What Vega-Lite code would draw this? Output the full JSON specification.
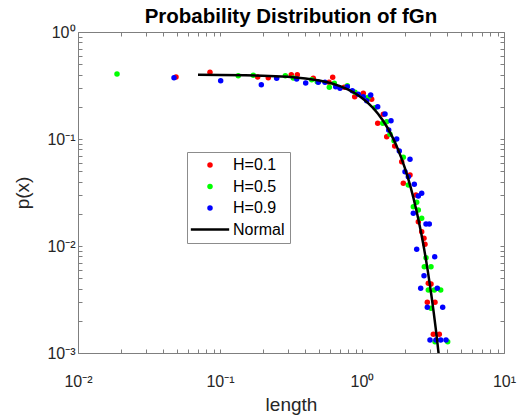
{
  "$schema": "https://vega.github.io/schema/vega-lite/v6.json",
  "width": 426,
  "height": 321,
  "autosize": {"type": "none"},
  "padding": {"left": 78, "top": 32, "right": 19, "bottom": 65},
  "background": "white",
  "title": {"text": "Probability Distribution of fGn", "font": "Liberation Sans", "fontSize": 20.5, "fontWeight": "bold", "color": "black", "anchor": "middle", "offset": 6, "dy": 9},
  "config": {
    "view": {"stroke": "#7f7f7f", "strokeWidth": 1},
    "axis": {"labelFont": "Liberation Sans", "labelFontSize": 16, "labelColor": "#262626", "titleFont": "Liberation Sans", "titleFontSize": 19, "titleFontWeight": "normal", "titleColor": "#262626", "grid": false, "domain": false, "tickColor": "#7f7f7f", "tickSize": -4, "tickWidth": 1, "labelOverlap": false, "labelFlush": false},
    "legend": {"labelFont": "Liberation Sans", "labelFontSize": 16, "labelColor": "#000000", "padding": 5, "rowPadding": 5.5, "strokeColor": "#8c8c8c", "fillColor": "white", "symbolSize": 30, "symbolStrokeWidth": 2.5, "symbolOffset": 10, "labelOffset": 15}
  },
  "datasets": {
    "pts": [
      {"x": 0.0490, "y": 0.3797, "s": "H=0.1"},
      {"x": 0.0850, "y": 0.4200, "s": "H=0.1"},
      {"x": 0.1843, "y": 0.380, "s": "H=0.1"},
      {"x": 0.2188, "y": 0.374, "s": "H=0.1"},
      {"x": 0.3177, "y": 0.399, "s": "H=0.1"},
      {"x": 0.3503, "y": 0.399, "s": "H=0.1"},
      {"x": 0.454, "y": 0.369, "s": "H=0.1"},
      {"x": 0.5856, "y": 0.3388, "s": "H=0.1"},
      {"x": 0.6218, "y": 0.3773, "s": "H=0.1"},
      {"x": 0.750, "y": 0.3041, "s": "H=0.1"},
      {"x": 0.8884, "y": 0.2485, "s": "H=0.1"},
      {"x": 1.021, "y": 0.2674, "s": "H=0.1"},
      {"x": 1.170, "y": 0.2350, "s": "H=0.1"},
      {"x": 1.413, "y": 0.1701, "s": "H=0.1"},
      {"x": 1.290, "y": 0.1402, "s": "H=0.1"},
      {"x": 1.493, "y": 0.1051, "s": "H=0.1"},
      {"x": 1.699, "y": 0.0860, "s": "H=0.1"},
      {"x": 1.904, "y": 0.0614, "s": "H=0.1"},
      {"x": 2.178, "y": 0.0461, "s": "H=0.1"},
      {"x": 1.954, "y": 0.0385, "s": "H=0.1"},
      {"x": 2.400, "y": 0.02997, "s": "H=0.1"},
      {"x": 2.492, "y": 0.01687, "s": "H=0.1"},
      {"x": 2.633, "y": 0.01360, "s": "H=0.1"},
      {"x": 2.733, "y": 0.01180, "s": "H=0.1"},
      {"x": 2.778, "y": 0.01037, "s": "H=0.1"},
      {"x": 2.930, "y": 0.00448, "s": "H=0.1"},
      {"x": 3.062, "y": 0.00442, "s": "H=0.1"},
      {"x": 2.884, "y": 0.00298, "s": "H=0.1"},
      {"x": 3.267, "y": 0.00298, "s": "H=0.1"},
      {"x": 3.178, "y": 0.001495, "s": "H=0.1"},
      {"x": 3.503, "y": 0.001495, "s": "H=0.1"},
      {"x": 0.01882, "y": 0.405, "s": "H=0.5"},
      {"x": 0.1345, "y": 0.3904, "s": "H=0.5"},
      {"x": 0.1716, "y": 0.3938, "s": "H=0.5"},
      {"x": 0.2884, "y": 0.3904, "s": "H=0.5"},
      {"x": 0.3283, "y": 0.3716, "s": "H=0.5"},
      {"x": 0.4422, "y": 0.3583, "s": "H=0.5"},
      {"x": 0.4843, "y": 0.3432, "s": "H=0.5"},
      {"x": 0.6383, "y": 0.3316, "s": "H=0.5"},
      {"x": 0.5886, "y": 0.3041, "s": "H=0.5"},
      {"x": 0.7882, "y": 0.3149, "s": "H=0.5"},
      {"x": 0.8928, "y": 0.2732, "s": "H=0.5"},
      {"x": 1.108, "y": 0.2453, "s": "H=0.5"},
      {"x": 1.235, "y": 0.1961, "s": "H=0.5"},
      {"x": 1.493, "y": 0.1451, "s": "H=0.5"},
      {"x": 1.399, "y": 0.1402, "s": "H=0.5"},
      {"x": 1.575, "y": 0.1106, "s": "H=0.5"},
      {"x": 1.680, "y": 0.0964, "s": "H=0.5"},
      {"x": 1.954, "y": 0.0675, "s": "H=0.5"},
      {"x": 2.119, "y": 0.03716, "s": "H=0.5"},
      {"x": 2.428, "y": 0.02561, "s": "H=0.5"},
      {"x": 2.298, "y": 0.02330, "s": "H=0.5"},
      {"x": 2.492, "y": 0.02171, "s": "H=0.5"},
      {"x": 2.633, "y": 0.01815, "s": "H=0.5"},
      {"x": 2.823, "y": 0.00777, "s": "H=0.5"},
      {"x": 2.746, "y": 0.00640, "s": "H=0.5"},
      {"x": 3.062, "y": 0.00640, "s": "H=0.5"},
      {"x": 2.930, "y": 0.00388, "s": "H=0.5"},
      {"x": 3.230, "y": 0.00388, "s": "H=0.5"},
      {"x": 3.583, "y": 0.00388, "s": "H=0.5"},
      {"x": 3.062, "y": 0.002617, "s": "H=0.5"},
      {"x": 3.267, "y": 0.001275, "s": "H=0.5"},
      {"x": 4.013, "y": 0.001275, "s": "H=0.5"},
      {"x": 0.04744, "y": 0.374, "s": "H=0.9"},
      {"x": 0.1011, "y": 0.3507, "s": "H=0.9"},
      {"x": 0.1954, "y": 0.3217, "s": "H=0.9"},
      {"x": 0.2507, "y": 0.3693, "s": "H=0.9"},
      {"x": 0.3467, "y": 0.3638, "s": "H=0.9"},
      {"x": 0.4013, "y": 0.3337, "s": "H=0.9"},
      {"x": 0.4922, "y": 0.3388, "s": "H=0.9"},
      {"x": 0.5488, "y": 0.3388, "s": "H=0.9"},
      {"x": 0.6530, "y": 0.3081, "s": "H=0.9"},
      {"x": 0.6998, "y": 0.2977, "s": "H=0.9"},
      {"x": 0.7882, "y": 0.3081, "s": "H=0.9"},
      {"x": 0.8546, "y": 0.2828, "s": "H=0.9"},
      {"x": 0.9417, "y": 0.2617, "s": "H=0.9"},
      {"x": 1.021, "y": 0.2485, "s": "H=0.9"},
      {"x": 1.152, "y": 0.2578, "s": "H=0.9"},
      {"x": 1.079, "y": 0.2280, "s": "H=0.9"},
      {"x": 1.290, "y": 0.2003, "s": "H=0.9"},
      {"x": 1.452, "y": 0.1713, "s": "H=0.9"},
      {"x": 1.601, "y": 0.1483, "s": "H=0.9"},
      {"x": 1.542, "y": 0.1214, "s": "H=0.9"},
      {"x": 1.755, "y": 0.1000, "s": "H=0.9"},
      {"x": 1.831, "y": 0.0772, "s": "H=0.9"},
      {"x": 2.178, "y": 0.0646, "s": "H=0.9"},
      {"x": 2.009, "y": 0.0495, "s": "H=0.9"},
      {"x": 2.119, "y": 0.0444, "s": "H=0.9"},
      {"x": 2.335, "y": 0.03772, "s": "H=0.9"},
      {"x": 2.492, "y": 0.02934, "s": "H=0.9"},
      {"x": 2.633, "y": 0.03109, "s": "H=0.9"},
      {"x": 2.298, "y": 0.02021, "s": "H=0.9"},
      {"x": 2.823, "y": 0.01606, "s": "H=0.9"},
      {"x": 2.978, "y": 0.01606, "s": "H=0.9"},
      {"x": 2.428, "y": 0.00931, "s": "H=0.9"},
      {"x": 3.251, "y": 0.00794, "s": "H=0.9"},
      {"x": 2.733, "y": 0.00528, "s": "H=0.9"},
      {"x": 2.591, "y": 0.00402, "s": "H=0.9"},
      {"x": 3.391, "y": 0.00402, "s": "H=0.9"},
      {"x": 2.884, "y": 0.002674, "s": "H=0.9"},
      {"x": 3.701, "y": 0.002674, "s": "H=0.9"},
      {"x": 3.012, "y": 0.001322, "s": "H=0.9"},
      {"x": 3.320, "y": 0.001322, "s": "H=0.9"},
      {"x": 3.583, "y": 0.001322, "s": "H=0.9"},
      {"x": 3.904, "y": 0.001322, "s": "H=0.9"}
    ],
    "normal": [
      {"x": 0.07, "y": 0.39796},
      {"x": 0.1, "y": 0.39695},
      {"x": 0.15, "y": 0.39448},
      {"x": 0.2, "y": 0.39104},
      {"x": 0.3, "y": 0.38139},
      {"x": 0.4, "y": 0.36827},
      {"x": 0.5, "y": 0.35207},
      {"x": 0.6, "y": 0.33322},
      {"x": 0.7, "y": 0.31225},
      {"x": 0.8, "y": 0.28969},
      {"x": 0.9, "y": 0.26609},
      {"x": 1.0, "y": 0.24197},
      {"x": 1.1, "y": 0.21785},
      {"x": 1.2, "y": 0.19419},
      {"x": 1.3, "y": 0.17137},
      {"x": 1.4, "y": 0.14973},
      {"x": 1.5, "y": 0.12952},
      {"x": 1.6, "y": 0.11092},
      {"x": 1.7, "y": 0.09405},
      {"x": 1.8, "y": 0.07895},
      {"x": 1.9, "y": 0.06562},
      {"x": 2.0, "y": 0.05399},
      {"x": 2.1, "y": 0.043984},
      {"x": 2.2, "y": 0.03547},
      {"x": 2.3, "y": 0.028327},
      {"x": 2.4, "y": 0.02239},
      {"x": 2.5, "y": 0.017528},
      {"x": 2.6, "y": 0.01358},
      {"x": 2.7, "y": 0.010421},
      {"x": 2.8, "y": 0.00792},
      {"x": 2.9, "y": 0.005953},
      {"x": 3.0, "y": 0.00443},
      {"x": 3.1, "y": 0.003267},
      {"x": 3.2, "y": 0.00238},
      {"x": 3.3, "y": 0.001723},
      {"x": 3.4, "y": 0.00123},
      {"x": 3.5, "y": 0.00087}
    ]
  },
  "layer": [
    {
      "data": {"name": "pts"},
      "mark": {"type": "point", "filled": true, "size": 30, "opacity": 1, "strokeWidth": 2.5},
      "encoding": {
        "x": {"field": "x", "type": "quantitative", "title": "length",
          "scale": {"type": "log", "domain": [0.01, 10], "nice": false},
          "axis": {"orient": "bottom", "values": [0.01, 0.02, 0.03, 0.04, 0.05, 0.06, 0.07, 0.08, 0.09, 0.1, 0.2, 0.3, 0.4, 0.5, 0.6, 0.7, 0.8, 0.9, 1, 2, 3, 4, 5, 6, 7, 8, 9, 10],
            "labelExpr": "datum.value == 0.01 ? '10⁻²' : datum.value == 0.1 ? '10⁻¹' : datum.value == 1 ? '10⁰' : datum.value == 10 ? '10¹' : ''",
            "labelPadding": 24, "titleY": 51, "titleBaseline": "middle"}},
        "y": {"field": "y", "type": "quantitative", "title": "p(x)",
          "scale": {"type": "log", "domain": [0.001, 1], "nice": false},
          "axis": {"orient": "left", "values": [0.001, 0.002, 0.003, 0.004, 0.005, 0.006, 0.007, 0.008, 0.009, 0.01, 0.02, 0.03, 0.04, 0.05, 0.06, 0.07, 0.08, 0.09, 0.1, 0.2, 0.3, 0.4, 0.5, 0.6, 0.7, 0.8, 0.9, 1],
            "labelExpr": "datum.value == 0.001 ? '10⁻³' : datum.value == 0.01 ? '10⁻²' : datum.value == 0.1 ? '10⁻¹' : datum.value == 1 ? '10⁰' : ''",
            "labelPadding": 7, "titleX": -56, "titleBaseline": "middle"}},
        "color": {"field": "s", "type": "nominal",
          "scale": {"domain": ["H=0.1", "H=0.5", "H=0.9", "Normal"], "range": ["#ff0000", "#00ff00", "#0000ff", "#000000"]},
          "legend": {"title": null, "orient": "none", "legendX": 109, "legendY": 120}},
        "shape": {"field": "s", "type": "nominal",
          "scale": {"domain": ["H=0.1", "H=0.5", "H=0.9", "Normal"], "range": ["circle", "circle", "circle", "M-7,0H7"]},
          "legend": {"title": null, "orient": "none", "legendX": 109, "legendY": 120}},
        "stroke": {"field": "s", "type": "nominal",
          "scale": {"domain": ["H=0.1", "H=0.5", "H=0.9", "Normal"], "range": ["transparent", "transparent", "transparent", "#000000"]},
          "legend": {"title": null, "orient": "none", "legendX": 109, "legendY": 120}}
      }
    },
    {
      "data": {"name": "normal"},
      "mark": {"type": "line", "color": "black", "strokeWidth": 2.5, "clip": true},
      "encoding": {
        "x": {"field": "x", "type": "quantitative",
          "scale": {"type": "log", "domain": [0.01, 10], "nice": false},
          "axis": {"orient": "top", "labels": false, "title": null, "values": [0.01, 0.02, 0.03, 0.04, 0.05, 0.06, 0.07, 0.08, 0.09, 0.1, 0.2, 0.3, 0.4, 0.5, 0.6, 0.7, 0.8, 0.9, 1, 2, 3, 4, 5, 6, 7, 8, 9, 10]}},
        "y": {"field": "y", "type": "quantitative",
          "scale": {"type": "log", "domain": [0.001, 1], "nice": false},
          "axis": {"orient": "right", "labels": false, "title": null, "values": [0.001, 0.002, 0.003, 0.004, 0.005, 0.006, 0.007, 0.008, 0.009, 0.01, 0.02, 0.03, 0.04, 0.05, 0.06, 0.07, 0.08, 0.09, 0.1, 0.2, 0.3, 0.4, 0.5, 0.6, 0.7, 0.8, 0.9, 1]}}
      }
    }
  ],
  "resolve": {"axis": {"x": "independent", "y": "independent"}}
}
